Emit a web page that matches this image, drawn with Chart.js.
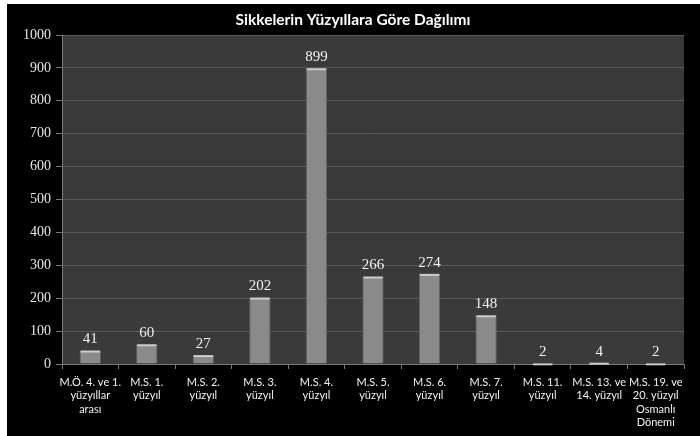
<!DOCTYPE html>
<html>
<head>
<meta charset="utf-8">
<script src="https://cdn.jsdelivr.net/npm/chart.js@4/dist/chart.umd.min.js"></script>
<style>
html,body{margin:0;padding:0;background:#fff;}
#wrap{width:700px;height:436px;position:relative;}
</style>
</head>
<body>
<div id="wrap"><canvas id="c" width="700" height="436"></canvas></div>
<script>
const titleText = "Sikkelerin Yüzyıllara Göre Dağılımı";
const categories = [
  ["M.Ö. 4. ve 1.", "yüzyıllar", "arası"],
  ["M.S. 1.", "yüzyıl"],
  ["M.S. 2.", "yüzyıl"],
  ["M.S. 3.", "yüzyıl"],
  ["M.S. 4.", "yüzyıl"],
  ["M.S. 5.", "yüzyıl"],
  ["M.S. 6.", "yüzyıl"],
  ["M.S. 7.", "yüzyıl"],
  ["M.S. 11.", "yüzyıl"],
  ["M.S. 13. ve", "14. yüzyıl"],
  ["M.S. 19. ve", "20. yüzyıl", "Osmanlı", "Dönemi"]
];
const coinCounts = [41, 60, 27, 202, 899, 266, 274, 148, 2, 4, 2];
const yMin = 0, yMax = 1000, yStep = 100;

const SERIF = '"Liberation Serif", "DejaVu Serif", serif';
const SANS = 'Lato, "Open Sans", sans-serif';

const bgPlugin = {
  id: 'bg',
  beforeDraw(chart) {
    const ctx = chart.ctx, a = chart.chartArea;
    ctx.save();
    ctx.fillStyle = '#ffffff';
    ctx.fillRect(0, 0, chart.width, chart.height);
    ctx.fillStyle = '#000000';
    ctx.fillRect(7, 4, chart.width - 7, chart.height - 4);
    ctx.fillStyle = '#3a3a3a';
    ctx.fillRect(a.left, a.top, a.right - a.left, a.bottom - a.top);
    ctx.fillStyle = '#ffffff';
    ctx.font = 'bold 15.5px ' + SANS;
    ctx.textAlign = 'center';
    ctx.textBaseline = 'middle';
    ctx.fillText(titleText, 353, 20);
    ctx.restore();
  },
  afterDatasetsDraw(chart) {
    const ctx = chart.ctx;
    const meta = chart.getDatasetMeta(0);
    ctx.save();
    meta.data.forEach((bar, i) => {
      const w = bar.width;
      const x0 = bar.x - w / 2;
      ctx.fillStyle = 'rgba(220,220,220,0.85)';
      ctx.fillRect(x0 + 1, bar.y, w - 2, 2);
      ctx.fillStyle = '#f0f0f0';
      ctx.font = '15px ' + SERIF;
      ctx.textAlign = 'center';
      ctx.textBaseline = 'middle';
      ctx.fillText(String(coinCounts[i]), bar.x, bar.y - 11);
    });
    ctx.restore();
  }
};

const ctx = document.getElementById('c').getContext('2d');
new Chart(ctx, {
  type: 'bar',
  data: {
    labels: categories,
    datasets: [{
      data: coinCounts,
      backgroundColor: (c) => {
        const chart = c.chart;
        const el = c.element;
        if (!el || !chart.chartArea) return '#8a8a8a';
        const props = el.getProps(['x', 'width'], true);
        if (!isFinite(props.x) || !isFinite(props.width)) return '#8a8a8a';
        const g = chart.ctx.createLinearGradient(props.x - props.width / 2, 0, props.x + props.width / 2, 0);
        g.addColorStop(0, '#7a7a7a');
        g.addColorStop(0.5, '#929292');
        g.addColorStop(1, '#7a7a7a');
        return g;
      },
      borderColor: '#5e5e5e',
      borderWidth: 1,
      barPercentage: 0.38,
      categoryPercentage: 1.0
    }]
  },
  options: {
    responsive: false,
    animation: false,
    devicePixelRatio: 1,
    layout: { padding: { left: 7, top: 35, right: 16, bottom: 0 } },
    plugins: {
      legend: { display: false },
      title: { display: false },
      tooltip: { enabled: false }
    },
    scales: {
      x: {
        offset: true,
        grid: {
          display: true,
          offset: true,
          drawOnChartArea: false,
          drawTicks: true,
          tickLength: 5,
          color: '#7a7a7a'
        },
        border: { display: true, color: '#7a7a7a' },
        ticks: {
          color: '#f2f2f2',
          font: { family: SANS, size: 11, lineHeight: 1.2 },
          maxRotation: 0,
          minRotation: 0,
          autoSkip: false,
          padding: 7
        },
        afterFit(scale) { scale.height = 72; }
      },
      y: {
        min: yMin,
        max: yMax,
        grid: {
          color: '#5a5a5a',
          lineWidth: 1,
          drawTicks: true,
          tickLength: 6,
          tickColor: '#7a7a7a'
        },
        border: { display: true, color: '#7a7a7a' },
        ticks: {
          stepSize: yStep,
          color: '#e6e6e6',
          font: { family: SERIF, size: 14 },
          padding: 5,
          callback: (v) => String(v)
        },
        afterFit(scale) { scale.width = 55; }
      }
    }
  },
  plugins: [bgPlugin]
});
</script>
</body>
</html>
